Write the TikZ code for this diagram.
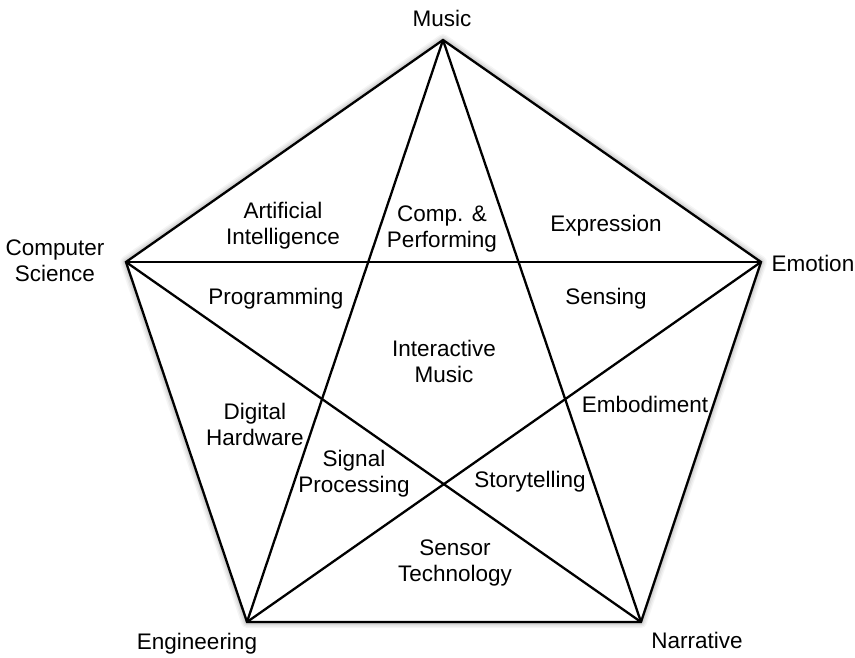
\documentclass[tikz,border=0pt]{standalone}
\usepackage{fontspec}
\setmainfont{Liberation Sans}
\begin{document}
\begin{tikzpicture}[x=1pt,y=-1pt,
  lbl/.style={align=center,font=\fontsize{22.5}{26}\selectfont,inner sep=0pt},
  edge/.style={line width=2.3pt,line join=miter},
  shade/.style={draw=black,line join=round}]
\useasboundingbox (0,0) rectangle (855,657);
\coordinate (M) at (443,40);
\coordinate (CS) at (126,262);
\coordinate (EM) at (761,262);
\coordinate (EN) at (247,622);
\coordinate (NA) at (641,622);
% soft shadow
\foreach \w/\o in {12/0.04,9/0.05,6/0.07,3/0.1}{
  \draw[shade,line width=\w pt,opacity=\o,shift={(3,4)}] (M)--(EM)--(NA)--(EN)--(CS)--cycle;
}
\fill[white] (M)--(EM)--(NA)--(EN)--(CS)--cycle;
% pentagon
\draw[edge] (M)--(EM)--(NA)--(EN)--(CS)--cycle;
% star
\draw[edge] (M)--(EN);
\draw[edge] (M)--(NA);
\draw[edge] (CS)--(EM);
\draw[edge] (CS)--(NA);
\draw[edge] (EN)--(EM);
% vertex labels
\node[lbl] (lM) at (442,18) {Music};
\node[lbl] (lCS) at (55,261) {Computer\\Science};
\node[lbl] (lEM) at (813,263) {Emotion};
\node[lbl] (lEN) at (197,644) {Engineering};
\node[lbl] (lNA) at (697,640) {Narrative};
% region labels
\node[lbl] (ai) at (283,226) {Artificial\\Intelligence};
\node[lbl] (cp) at (442,229) {Comp. \&\\Performing};
\node[lbl] (ex) at (606,226) {Expression};
\node[lbl] (pr) at (276,299) {Programming};
\node[lbl] (se) at (606,299) {Sensing};
\node[lbl] (im) at (444,361) {Interactive\\Music};
\node[lbl] (dh) at (255,424) {Digital\\Hardware};
\node[lbl] (eb) at (645,404) {Embodiment};
\node[lbl] (sp) at (354,474) {Signal\\Processing};
\node[lbl] (st) at (530,482) {Storytelling};
\node[lbl] (stc) at (455,563) {Sensor\\Technology};
\end{tikzpicture}
\end{document}
